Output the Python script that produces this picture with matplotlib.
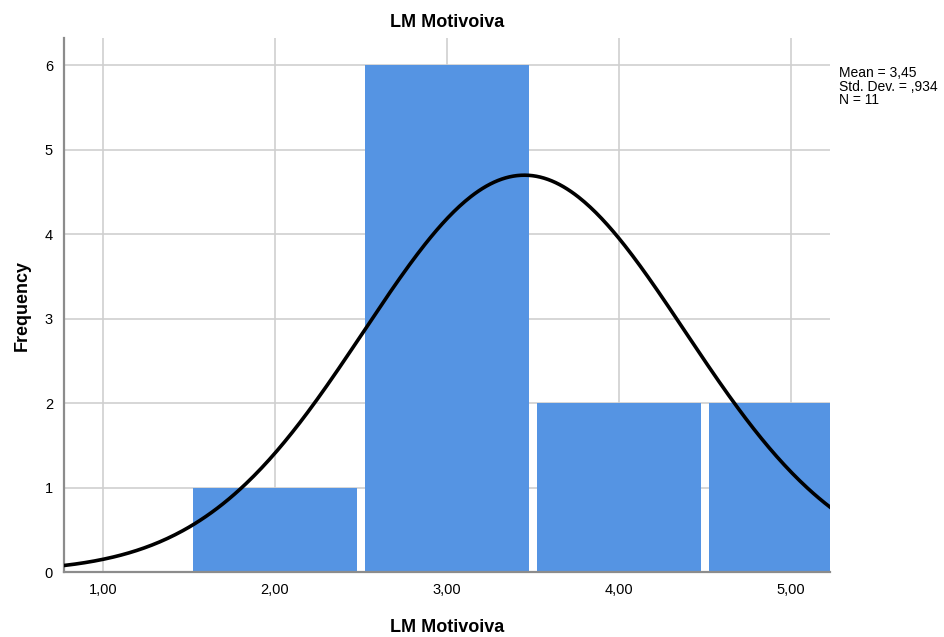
import numpy as np
import matplotlib.pyplot as plt

plt.rcParams['font.family'] = ['Liberation Sans', 'DejaVu Sans']

# histogram data (SPSS output)
bin_centers = [2, 3, 4, 5]
counts = [1, 6, 2, 2]
mean = 3.45
std = 0.934
n = 11
bin_width = 1.0

xticks = [1, 2, 3, 4, 5]
xtick_labels = ['1,00', '2,00', '3,00', '4,00', '5,00']
yticks = [0, 1, 2, 3, 4, 5, 6]

fig = plt.figure(figsize=(9.44, 6.37), dpi=100)
ax = fig.add_axes([0.0678, 0.102, 0.8114, 0.838])

ax.bar(bin_centers, counts, width=0.953, color='#5594e3', zorder=2)

# normal curve scaled to counts
xs = np.linspace(0.77, 5.23, 400)
ys = n * bin_width / (std * np.sqrt(2 * np.pi)) * np.exp(-0.5 * ((xs - mean) / std) ** 2)
ax.plot(xs, ys, color='black', linewidth=2.6, zorder=3, clip_on=True)

ax.set_xlim(0.773, 5.227)
ax.set_ylim(0, 6.32)
ax.set_xticks(xticks)
ax.set_xticklabels(xtick_labels)
ax.set_yticks(yticks)
ax.grid(True, color='#cfcfcf', linewidth=1.2, zorder=0)
ax.set_axisbelow(True)
ax.tick_params(length=0, labelsize=10.5, pad=8)
ax.tick_params(axis='y', pad=8)

for s in ['top', 'right']:
    ax.spines[s].set_visible(False)
for s in ['left', 'bottom']:
    ax.spines[s].set_color('#8c8c8c')
    ax.spines[s].set_linewidth(1.6)

ax.set_title('LM Motivoiva', fontsize=13, fontweight='bold', pad=8)
ax.set_xlabel('LM Motivoiva', fontsize=13, fontweight='bold', labelpad=16)
ax.set_ylabel('Frequency', fontsize=13, fontweight='bold', labelpad=10)

fig.text(0.889, 0.896, 'Mean = 3,45\nStd. Dev. = ,934\nN = 11', fontsize=10,
         va='top', ha='left', linespacing=0.95)

fig.savefig('out.png', dpi=100)
